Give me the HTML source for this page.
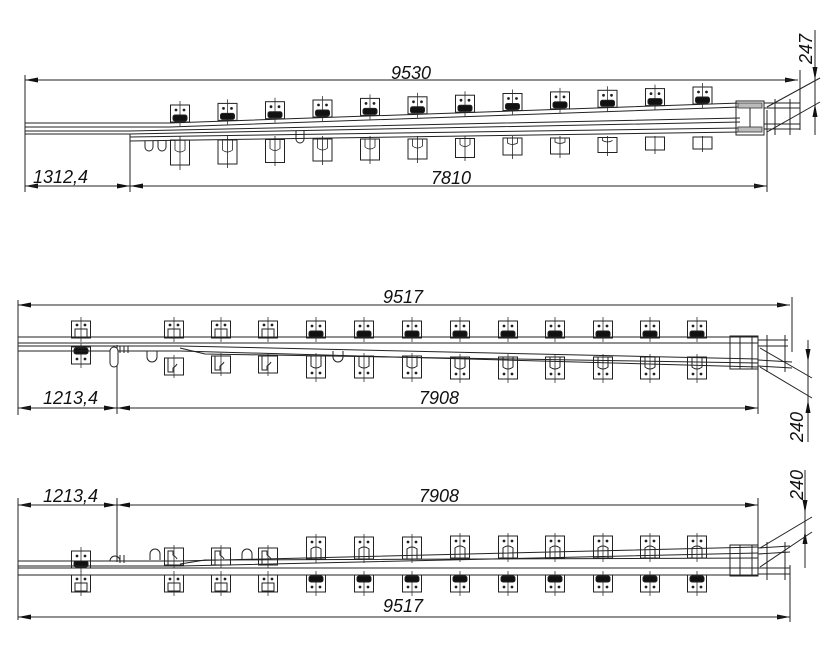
<!DOCTYPE html>
<html><head><meta charset="utf-8"><style>
html,body{margin:0;padding:0;background:#fff;}
svg{display:block;}
text{font-family:"Liberation Sans",sans-serif;font-style:italic;font-size:18px;fill:#111;}
</style></head><body>
<svg width="839" height="650" viewBox="0 0 839 650" xmlns="http://www.w3.org/2000/svg">
<defs>
<marker id="a" markerUnits="userSpaceOnUse" markerWidth="14" markerHeight="6" refX="13" refY="3" orient="auto"><path d="M0,0.5 L13,3 L0,5.5 Z" fill="#111"/></marker>
<g id="tt"><rect x="-9.5" y="0" width="19" height="17" fill="#fff" stroke="#222"/><line x1="0" y1="-4" x2="0" y2="21" stroke="#333" stroke-width="0.8"/><rect x="-7" y="10" width="14" height="6" rx="2" fill="#111"/><circle cx="-4" cy="5" r="0.9" fill="#111"/><circle cx="4" cy="5" r="0.9" fill="#111"/></g>
<g id="tw"><rect x="-9.5" y="0" width="19" height="17" fill="#fff" stroke="#222"/><line x1="0" y1="-4" x2="0" y2="21" stroke="#333" stroke-width="0.8"/><rect x="-6" y="8" width="12" height="8" fill="none" stroke="#222"/><circle cx="-4" cy="4" r="0.9" fill="#111"/><circle cx="4" cy="4" r="0.9" fill="#111"/></g>
<g id="bt"><rect x="-9.5" y="0" width="19" height="17" fill="#fff" stroke="#222"/><line x1="0" y1="-4" x2="0" y2="21" stroke="#333" stroke-width="0.8"/><rect x="-7" y="1" width="14" height="6" rx="2" fill="#111"/><circle cx="-4" cy="12" r="0.9" fill="#111"/><circle cx="4" cy="12" r="0.9" fill="#111"/></g>
<g id="bu"><rect x="-9.5" y="0" width="19" height="22" fill="#fff" stroke="#222"/><line x1="0" y1="-3" x2="0" y2="26" stroke="#333" stroke-width="0.8"/><path d="M-5,0 V10 Q0,14 5,10 V0" fill="none" stroke="#222"/><circle cx="-4" cy="17" r="0.9" fill="#111"/><circle cx="4" cy="17" r="0.9" fill="#111"/></g>
<g id="tu"><rect x="-9.5" y="0" width="19" height="22" fill="#fff" stroke="#222"/><line x1="0" y1="-3" x2="0" y2="26" stroke="#333" stroke-width="0.8"/><path d="M-5,22 V12 Q0,8 5,12 V22" fill="none" stroke="#222"/><circle cx="-4" cy="5" r="0.9" fill="#111"/><circle cx="4" cy="5" r="0.9" fill="#111"/></g>
<g id="st"><rect x="-9.5" y="0" width="19" height="17" fill="#fff" stroke="#222"/><line x1="0" y1="-3" x2="0" y2="20" stroke="#333" stroke-width="0.8"/><path d="M-6,0 V14 H-1 V10 Q2,8 3,6" fill="none" stroke="#222"/></g>
<g id="sb"><rect x="-9.5" y="0" width="19" height="17" fill="#fff" stroke="#222"/><line x1="0" y1="-3" x2="0" y2="20" stroke="#333" stroke-width="0.8"/><path d="M-6,17 V3 H-1 V7 Q2,9 3,11" fill="none" stroke="#222"/></g>
</defs>
<g stroke="#222" stroke-width="1" fill="none">
<!-- ===== Drawing 1 ===== -->
<line x1="25" y1="75" x2="25" y2="192"/>
<line x1="25" y1="80" x2="798" y2="80" marker-end="url(#a)"/>
<line x1="798" y1="80" x2="25" y2="80" marker-end="url(#a)"/>
<line x1="800" y1="70" x2="800" y2="130"/>
<line x1="130" y1="135" x2="130" y2="192"/>
<line x1="767" y1="110" x2="767" y2="192"/>
<line x1="130" y1="186" x2="25" y2="186" marker-end="url(#a)"/>
<line x1="25" y1="186" x2="130" y2="186" marker-end="url(#a)"/>
<line x1="130" y1="186" x2="767" y2="186" marker-end="url(#a)"/>
<line x1="767" y1="186" x2="130" y2="186" marker-end="url(#a)"/>
<line x1="815" y1="30" x2="815" y2="135"/>
<line x1="815" y1="55" x2="815" y2="80" marker-end="url(#a)"/>
<line x1="815" y1="130" x2="815" y2="104" marker-end="url(#a)"/>
<line x1="767" y1="107" x2="820" y2="78"/>
<line x1="767" y1="132" x2="820" y2="102"/>
<g>
<use href="#tt" x="180" y="105"/><use href="#tt" x="227.5" y="103.4"/><use href="#tt" x="275" y="101.7"/><use href="#tt" x="322.5" y="100"/><use href="#tt" x="370" y="98.4"/><use href="#tt" x="417.5" y="96.8"/><use href="#tt" x="465" y="95.2"/><use href="#tt" x="512.5" y="93.5"/><use href="#tt" x="560" y="91.9"/><use href="#tt" x="607.5" y="90.3"/><use href="#tt" x="655" y="88.6"/><use href="#tt" x="702.5" y="87"/>
</g>
<g fill="#fff">
<rect x="170.5" y="140" width="19" height="25"/><rect x="218" y="140" width="19" height="24"/><rect x="265.5" y="139.5" width="19" height="23"/><rect x="313" y="139" width="19" height="22"/><rect x="360.5" y="139" width="19" height="21"/><rect x="408" y="139" width="19" height="20"/><rect x="455.5" y="138.5" width="19" height="19"/><rect x="503" y="138" width="19" height="17"/><rect x="550.5" y="138" width="19" height="16"/><rect x="598" y="137.5" width="19" height="15"/><rect x="645.5" y="137" width="19" height="13"/><rect x="693" y="137" width="19" height="12"/>
</g>
<g stroke-width="0.8">
<path d="M175,140 v10 q5,4 10,0 v-10"/><path d="M222.5,140 v10 q5,4 10,0 v-10"/><path d="M270,139.5 v9 q5,4 10,0 v-9"/><path d="M317.5,139 v9 q5,4 10,0 v-9"/><path d="M365,139 v8 q5,4 10,0 v-8"/><path d="M412.5,139 v7 q5,4 10,0 v-7"/><path d="M460,138.5 v6 q5,4 10,0 v-6"/><path d="M507.5,138 v5 q5,3 10,0 v-5"/><path d="M555,138 v4 q5,3 10,0 v-4"/><path d="M602.5,137.5 v3 q5,3 10,0"/>
<line x1="180" y1="136" x2="180" y2="170"/><line x1="227.5" y1="136" x2="227.5" y2="168"/><line x1="275" y1="136" x2="275" y2="166"/><line x1="322.5" y1="136" x2="322.5" y2="165"/><line x1="370" y1="136" x2="370" y2="164"/><line x1="417.5" y1="136" x2="417.5" y2="163"/><line x1="465" y1="136" x2="465" y2="161"/><line x1="512.5" y1="136" x2="512.5" y2="159"/><line x1="560" y1="136" x2="560" y2="158"/><line x1="607.5" y1="136" x2="607.5" y2="156"/><line x1="655" y1="136" x2="655" y2="154"/><line x1="702.5" y1="136" x2="702.5" y2="152"/>
</g>
<polyline points="25,123 170,123 740,103"/>
<polyline points="25,127 170,127 740,107"/>
<polyline points="25,131 130,131 740,118"/>
<polyline points="25,134 130,134 740,122"/>
<line x1="130" y1="137" x2="740" y2="128"/>
<line x1="130" y1="141" x2="740" y2="132"/>
<line x1="130" y1="134" x2="130" y2="141"/>
<rect x="736" y="101" width="28" height="34"/>
<rect x="738" y="103" width="24" height="5" fill="#bbb" stroke="#555"/>
<rect x="738" y="127" width="24" height="5" fill="#bbb" stroke="#555"/>
<line x1="750" y1="108" x2="750" y2="127"/>
<line x1="764" y1="103" x2="800" y2="103"/><line x1="764" y1="108" x2="800" y2="108"/>
<line x1="764" y1="124" x2="800" y2="124"/><line x1="764" y1="129" x2="800" y2="129"/>
<line x1="775" y1="99" x2="775" y2="135"/><line x1="790" y1="99" x2="790" y2="135"/>
<path d="M145,141 v6 a4,4 0 0 0 8,0 v-6 M158,141 v6 a4,4 0 0 0 8,0 v-6 M296,131 v8 a4,4 0 0 0 8,0 v-8"/>
<!-- ===== Drawing 2 ===== -->
<line x1="18" y1="300" x2="18" y2="415"/>
<line x1="792" y1="297" x2="792" y2="352"/>
<line x1="18" y1="305" x2="790" y2="305" marker-end="url(#a)"/>
<line x1="790" y1="305" x2="18" y2="305" marker-end="url(#a)"/>
<line x1="117" y1="345" x2="117" y2="414"/>
<line x1="758" y1="360" x2="758" y2="414"/>
<line x1="117" y1="408" x2="18" y2="408" marker-end="url(#a)"/>
<line x1="18" y1="408" x2="117" y2="408" marker-end="url(#a)"/>
<line x1="117" y1="408" x2="758" y2="408" marker-end="url(#a)"/>
<line x1="758" y1="408" x2="117" y2="408" marker-end="url(#a)"/>
<line x1="808" y1="350" x2="808" y2="442"/>
<line x1="808" y1="340" x2="808" y2="362" marker-end="url(#a)"/>
<line x1="808" y1="425" x2="808" y2="400" marker-end="url(#a)"/>
<line x1="760" y1="348" x2="812" y2="378"/>
<line x1="760" y1="367" x2="812" y2="398"/>
<use href="#tw" x="81" y="321"/><use href="#tw" x="174" y="321"/><use href="#tw" x="221" y="321"/><use href="#tw" x="268" y="321"/>
<use href="#tt" x="316" y="321"/><use href="#tt" x="364" y="321"/><use href="#tt" x="412" y="321"/><use href="#tt" x="460" y="321"/><use href="#tt" x="508" y="321"/><use href="#tt" x="555" y="321"/><use href="#tt" x="603" y="321"/><use href="#tt" x="650" y="321"/><use href="#tt" x="697" y="321"/>
<use href="#bt" x="81" y="347"/>
<use href="#st" x="174" y="358"/><use href="#st" x="221" y="356"/><use href="#st" x="268" y="356"/>
<use href="#bu" x="316" y="356"/><use href="#bu" x="364" y="356"/><use href="#bu" x="412" y="356"/><use href="#bu" x="460" y="357"/><use href="#bu" x="508" y="357"/><use href="#bu" x="555" y="357"/><use href="#bu" x="603" y="357"/><use href="#bu" x="650" y="357"/><use href="#bu" x="697" y="357"/>
<line x1="18" y1="337" x2="758" y2="337"/><line x1="18" y1="343" x2="758" y2="343"/>
<polyline points="18,346 180,346 758,359"/>
<polyline points="18,351 180,351 758,367"/>
<polyline points="180,348 205,354 758,363"/>
<rect x="730" y="336" width="28" height="33"/>
<line x1="740" y1="336" x2="740" y2="369"/><line x1="752" y1="336" x2="752" y2="369"/>
<line x1="758" y1="340" x2="788" y2="340"/><line x1="758" y1="346" x2="788" y2="346"/>
<line x1="758" y1="360" x2="792" y2="362"/><line x1="758" y1="366" x2="792" y2="368"/>
<line x1="767" y1="335" x2="767" y2="372"/><line x1="785" y1="335" x2="785" y2="372"/>
<rect x="110" y="347" width="8" height="20" rx="4" fill="#fff"/>
<path d="M120,346 v7 M124,346 v7 M128,346 v7 M147,351 v6 a5,5 0 0 0 10,0 v-6 M333,351 v6 a5,5 0 0 0 10,0 v-6"/>
<!-- ===== Drawing 3 ===== -->
<line x1="18" y1="498" x2="18" y2="620"/>
<line x1="117" y1="498" x2="117" y2="562"/>
<line x1="758" y1="498" x2="758" y2="548"/>
<line x1="790" y1="565" x2="790" y2="622"/>
<line x1="117" y1="505" x2="18" y2="505" marker-end="url(#a)"/>
<line x1="18" y1="505" x2="117" y2="505" marker-end="url(#a)"/>
<line x1="117" y1="505" x2="758" y2="505" marker-end="url(#a)"/>
<line x1="758" y1="505" x2="117" y2="505" marker-end="url(#a)"/>
<line x1="18" y1="617" x2="790" y2="617" marker-end="url(#a)"/>
<line x1="790" y1="617" x2="18" y2="617" marker-end="url(#a)"/>
<line x1="805" y1="470" x2="805" y2="568"/>
<line x1="805" y1="490" x2="805" y2="513" marker-end="url(#a)"/>
<line x1="805" y1="555" x2="805" y2="531" marker-end="url(#a)"/>
<line x1="760" y1="548" x2="812" y2="517"/>
<line x1="760" y1="567" x2="812" y2="532"/>
<use href="#tt" x="81" y="551"/>
<use href="#sb" x="174" y="548"/><use href="#sb" x="221" y="548"/><use href="#sb" x="268" y="548"/>
<use href="#tu" x="316" y="537"/><use href="#tu" x="364" y="537"/><use href="#tu" x="412" y="537"/><use href="#tu" x="460" y="536"/><use href="#tu" x="508" y="536"/><use href="#tu" x="555" y="536"/><use href="#tu" x="603" y="536"/><use href="#tu" x="650" y="536"/><use href="#tu" x="697" y="536"/>
<use href="#tw" x="81" y="575"/><use href="#tw" x="174" y="575"/><use href="#tw" x="221" y="575"/><use href="#tw" x="268" y="575"/>
<use href="#bt" x="316" y="575"/><use href="#bt" x="364" y="575"/><use href="#bt" x="412" y="575"/><use href="#bt" x="460" y="575"/><use href="#bt" x="508" y="575"/><use href="#bt" x="555" y="575"/><use href="#bt" x="603" y="575"/><use href="#bt" x="650" y="575"/><use href="#bt" x="697" y="575"/>
<line x1="18" y1="568" x2="758" y2="568"/><line x1="18" y1="575" x2="758" y2="575"/>
<polyline points="18,561 180,561 758,547"/>
<polyline points="18,566 180,566 758,553"/>
<polyline points="180,564 205,560 758,558"/>
<rect x="730" y="545" width="28" height="31"/>
<line x1="740" y1="545" x2="740" y2="576"/><line x1="752" y1="545" x2="752" y2="576"/>
<line x1="758" y1="548" x2="790" y2="546"/><line x1="758" y1="554" x2="790" y2="552"/>
<line x1="758" y1="568" x2="790" y2="568"/><line x1="758" y1="574" x2="790" y2="574"/>
<line x1="767" y1="542" x2="767" y2="580"/><line x1="785" y1="542" x2="785" y2="580"/>
<path d="M110,561 a5,5 0 0 1 10,0 M120,555 v8 M124,555 v8 M150,560 v-6 a5,5 0 0 1 10,0 v6 M242,560 v-6 a5,5 0 0 1 10,0 v6"/>
</g>
<text x="391" y="79">9530</text>
<text x="33" y="183">1312,4</text>
<text x="431" y="184">7810</text>
<text transform="translate(812,64) rotate(-90)">247</text>
<text x="383" y="303">9517</text>
<text x="43" y="404">1213,4</text>
<text x="419" y="404">7908</text>
<text transform="translate(803,442) rotate(-90)">240</text>
<text x="43" y="502">1213,4</text>
<text x="419" y="502">7908</text>
<text x="383" y="612">9517</text>
<text transform="translate(803,500) rotate(-90)">240</text>
</svg>
</body></html>
